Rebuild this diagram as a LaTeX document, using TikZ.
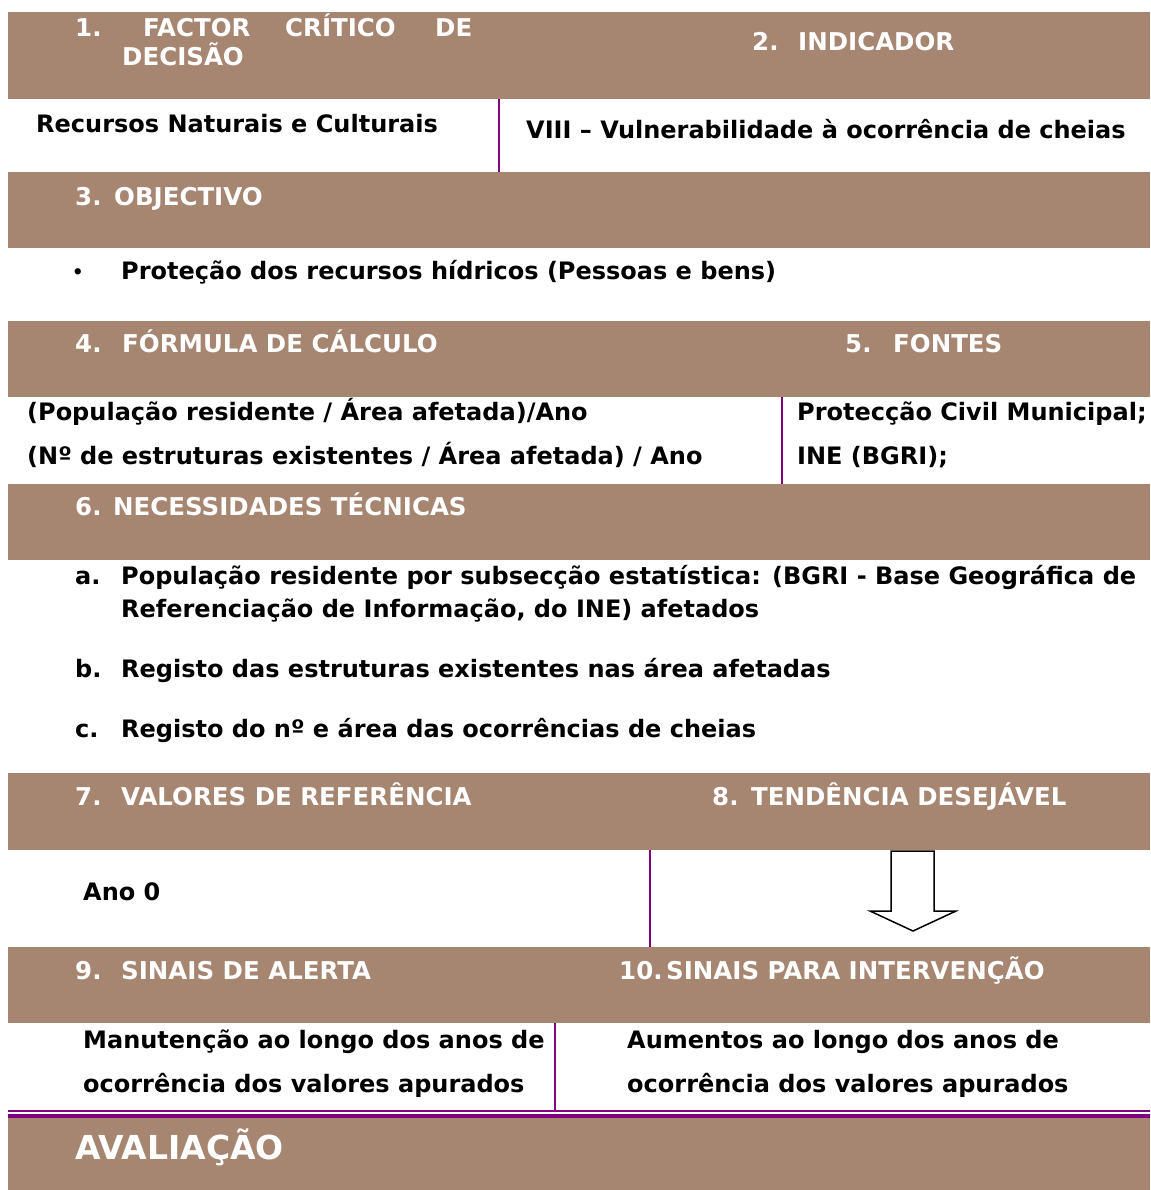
\documentclass[tikz,border=0pt]{standalone}
\usepackage{fontspec}
\setmainfont{DejaVu Sans}
\definecolor{faixa}{RGB}{166,133,113}
\definecolor{roxo}{RGB}{128,0,128}

\begin{document}
\begin{tikzpicture}[x=1pt,y=-1pt,
    titulo/.style={anchor=base west, inner sep=0pt, text=white,
      font=\fontsize{24.5}{29}\selectfont\bfseries},
    texto/.style={anchor=base west, inner sep=0pt,
      font=\fontsize{24}{29}\selectfont\bfseries},
    divisor/.style={roxo, line width=2pt}]
        \usetikzlibrary{positioning,calc}
        \useasboundingbox (0,0) rectangle (1150,1190);
        \fill[white] (0,0) rectangle (1150,1190);
        % faixas castanhas
        \foreach \a/\b in {12/99,172/248,321/397,484/560,773/850,947/1023,1118/1190}
            \fill[faixa] (8,\a) rectangle (1150,\b);

        % 1 e 2
        \node[titulo] (t1) at (75,37) {1.};
        \node[titulo] (t1a) at (143,37) {FACTOR};
        \node[titulo] (t1b) at (285,37) {CRÍTICO};
        \node[titulo] (t1c) at (435,37) {DE};
        \node[titulo] (t1d) at (122,66) {DECISÃO};
        \node[titulo] (t2) at (752,51) {2.};
        \node[titulo] (t2a) at (798,51) {INDICADOR};
        \node[texto] (fcd) at (36,133) {Recursos Naturais e Culturais};
        \node[texto] (ind) at (526,139) {VIII – Vulnerabilidade à ocorrência de cheias};
        \coordinate (d1a) at (499,99);
        \coordinate (d1b) at (499,172);
        \draw[divisor] (d1a) -- (d1b);

        % 3
        \node[titulo] (t3) at (75,206) {3.};
        \node[titulo] (t3a) at (114,206) {OBJECTIVO};
        \node[texto, font=\fontsize{18}{22}\selectfont\bfseries] (bul) at (72,278) {•};
        \node[texto] (obj) at (121,279) {Proteção dos recursos hídricos (Pessoas e bens)};

        % 4 e 5
        \node[titulo] (t4) at (75,352) {4.};
        \node[titulo] (t4a) at (122,352) {FÓRMULA DE CÁLCULO};
        \node[titulo] (t5) at (845,352) {5.};
        \node[titulo] (t5a) at (893,352) {FONTES};
        \node[texto] (f1) at (27,420) {(População residente / Área afetada)/Ano};
        \node[texto] (f2) at (27,464) {(Nº de estruturas existentes / Área afetada) / Ano};
        \node[texto] (s1) at (797,420) {Protecção Civil Municipal;};
        \node[texto] (s2) at (797,464) {INE (BGRI);};
        \coordinate (d2a) at (782,397);
        \coordinate (d2b) at (782,484);
        \draw[divisor] (d2a) -- (d2b);

        % 6
        \node[titulo] (t6) at (75,515) {6.};
        \node[titulo] (t6a) at (113,515) {NECESSIDADES TÉCNICAS};
        \node[texto] (la) at (75,584) {a.};
        \node[texto] (na1) at (121,584) {População residente por subsecção estatística: (BGRI - Base Geográfica de};
        \node[texto] (na2) at (121,617) {Referenciação de Informação, do INE) afetados};
        \node[texto] (lb) at (75,677) {b.};
        \node[texto] (nb) at (121,677) {Registo das estruturas existentes nas área afetadas};
        \node[texto] (lc) at (75,737) {c.};
        \node[texto] (nc) at (121,737) {Registo do nº e área das ocorrências de cheias};

        % 7 e 8
        \node[titulo] (t7) at (75,805) {7.};
        \node[titulo] (t7a) at (121,805) {VALORES DE REFERÊNCIA};
        \node[titulo] (t8) at (712,805) {8.};
        \node[titulo] (t8a) at (751,805) {TENDÊNCIA DESEJÁVEL};
        \node[texto] (ref) at (83,900) {Ano 0};
        \coordinate (d3a) at (650,850);
        \coordinate (d3b) at (650,947);
        \draw[divisor] (d3a) -- (d3b);
        % seta de tendencia
        \draw[black, line width=1.5pt, line join=miter]
            (891,851) -- (934,851) -- (934,911) -- (956,911) -- (913,931)
            -- (870,911) -- (891,911) -- cycle;

        % 9 e 10
        \node[titulo] (t9) at (75,979) {9.};
        \node[titulo] (t9a) at (121,979) {SINAIS DE ALERTA};
        \node[titulo] (t10) at (619,979) {10.};
        \node[titulo] (t10a) at (666,979) {SINAIS PARA INTERVENÇÃO};
        \node[texto] (al1) at (83,1048) {Manutenção ao longo dos anos de};
        \node[texto] (al2) at (83,1092) {ocorrência dos valores apurados};
        \node[texto] (in1) at (627,1048) {Aumentos ao longo dos anos de};
        \node[texto] (in2) at (627,1092) {ocorrência dos valores apurados};
        \coordinate (d4a) at (555,1023);
        \coordinate (d4b) at (555,1111);
        \draw[divisor] (d4a) -- (d4b);

        % linha dupla e avaliacao
        \draw[roxo, line width=1.5pt] (8,1111) -- (1150,1111);
        \draw[roxo, line width=4pt] (8,1116) -- (1150,1116);
        \node[titulo, font=\fontsize{33}{40}\selectfont\bfseries] (av) at (75,1159) {AVALIAÇÃO};
\end{tikzpicture}
\end{document}
